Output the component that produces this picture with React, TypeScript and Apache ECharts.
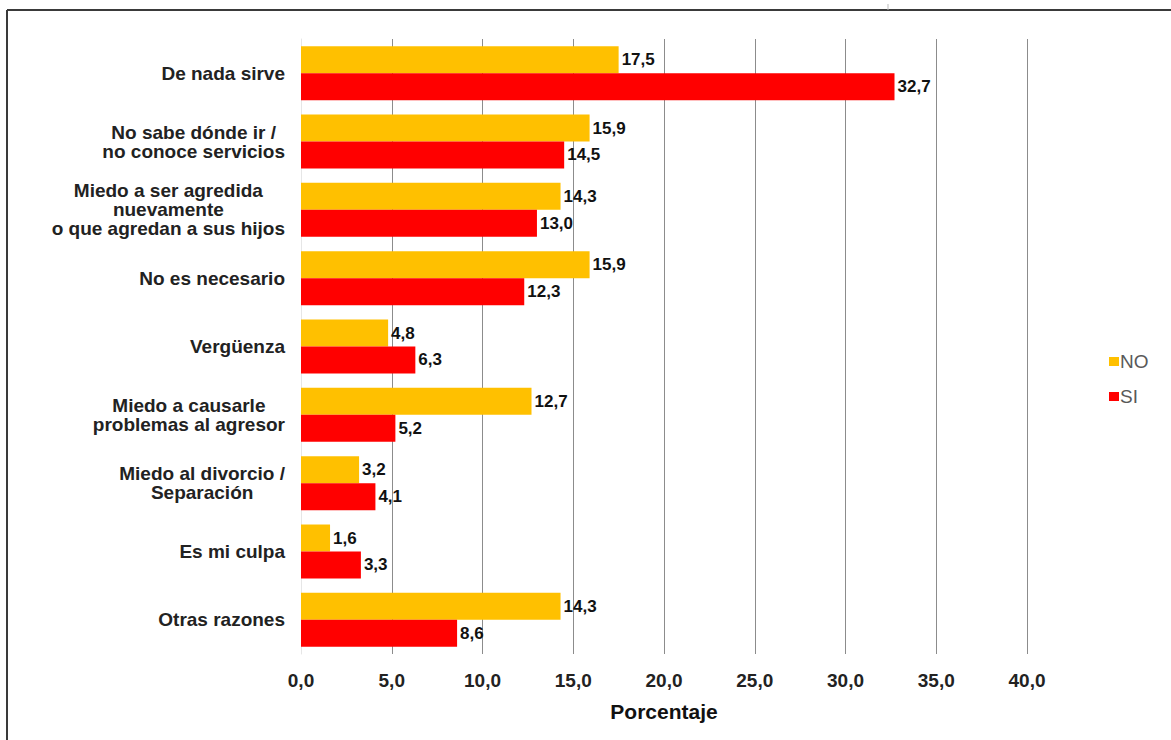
import React, { useEffect, useRef } from "react";
import * as echarts from "echarts";

const categories = [
  "De nada sirve",
  "No sabe dónde ir /\nno conoce servicios",
  "Miedo a ser agredida\nnuevamente\no que agredan a sus hijos",
  "No es necesario",
  "Vergüenza",
  "Miedo a causarle\nproblemas al agresor",
  "Miedo al divorcio /\nSeparación",
  "Es mi culpa",
  "Otras razones",
];
const noValues = [17.5, 15.9, 14.3, 15.9, 4.8, 12.7, 3.2, 1.6, 14.3];
const siValues = [32.7, 14.5, 13.0, 12.3, 6.3, 5.2, 4.1, 3.3, 8.6];
const seriesNames = ["NO", "SI"];
const axisName = "Porcentaje";

const FONT = "'Liberation Sans', Arial, sans-serif";

export default function App() {
  const ref = useRef<HTMLDivElement>(null);
  useEffect(() => {
    if (!ref.current) return;
    const chart = echarts.init(ref.current, null, { renderer: "svg" });
    const fmt = (v: number) => v.toFixed(1).replace(".", ",");
    const mkLabel = () => ({
      show: true,
      position: "right" as const,
      distance: 3,
      formatter: (p: any) => fmt(p.value),
      color: "#111",
      fontFamily: FONT,
      fontWeight: "bold" as const,
      fontSize: 17,
    });
    chart.setOption({
      animation: false,
      backgroundColor: "#fff",
      textStyle: { fontFamily: FONT },
      grid: { left: 301, top: 39, width: 726, height: 615, containLabel: false },
      legend: {
        orient: "vertical",
        left: 1104,
        top: 347,
        itemWidth: 10,
        itemHeight: 9,
        itemGap: 16,
        icon: "rect",
        textStyle: { color: "#595959", fontSize: 19, fontFamily: FONT, padding: [0, 0, 0, -4] },
        data: seriesNames,
      },
      xAxis: {
        type: "value",
        min: 0,
        max: 40,
        interval: 5,
        name: axisName,
        nameLocation: "middle",
        nameGap: 47,
        nameTextStyle: { color: "#111", fontSize: 21, fontWeight: "bold", fontFamily: FONT },
        axisLine: { show: false },
        axisTick: { show: false },
        axisLabel: {
          margin: 17,
          color: "#222",
          fontSize: 19,
          fontWeight: "bold",
          fontFamily: FONT,
          formatter: (v: number) => fmt(v),
        },
        splitLine: { show: true, lineStyle: { color: "#8c8c8c", width: 1 } },
      },
      yAxis: {
        type: "category",
        inverse: true,
        data: categories,
        axisLine: { show: true, lineStyle: { color: "#e6e6e6", width: 1 } },
        axisTick: { show: false },
        axisLabel: {
          margin: 16,
          align: "right",
          fontFamily: FONT,
          fontSize: 19,
          fontWeight: "bold",
          color: "#222",
          lineHeight: 19,
          formatter: (v: string) =>
            v
              .split("\n")
              .map((l) => "{c|" + l + "}")
              .join("\n"),
          rich: {
            c: {
              align: "center",
              fontFamily: FONT,
              fontSize: 19,
              fontWeight: "bold",
              color: "#222",
              lineHeight: 19,
            },
          },
        },
      },
      series: [
        {
          name: seriesNames[0],
          type: "bar",
          data: noValues,
          itemStyle: { color: "#FFC000" },
          barGap: "0%",
          barCategoryGap: "21%",
          label: mkLabel(),
        },
        {
          name: seriesNames[1],
          type: "bar",
          data: siValues,
          itemStyle: { color: "#FF0000" },
          barGap: "0%",
          barCategoryGap: "21%",
          label: mkLabel(),
        },
      ],
      graphic: [
        { type: "line", shape: { x1: 7, y1: 10, x2: 1171, y2: 10 }, style: { stroke: "#3a3a3a", lineWidth: 2 } },
        { type: "line", shape: { x1: 7, y1: 10, x2: 7, y2: 740 }, style: { stroke: "#3a3a3a", lineWidth: 2 } },
        { type: "line", shape: { x1: 888, y1: 4, x2: 888, y2: 10 }, style: { stroke: "#bbb", lineWidth: 1 } },
      ],
    });
    return () => chart.dispose();
  }, []);
  return (
    <div
      ref={ref}
      style={{ position: "absolute", left: 0, top: 0, width: 1171, height: 740 }}
    />
  );
}
